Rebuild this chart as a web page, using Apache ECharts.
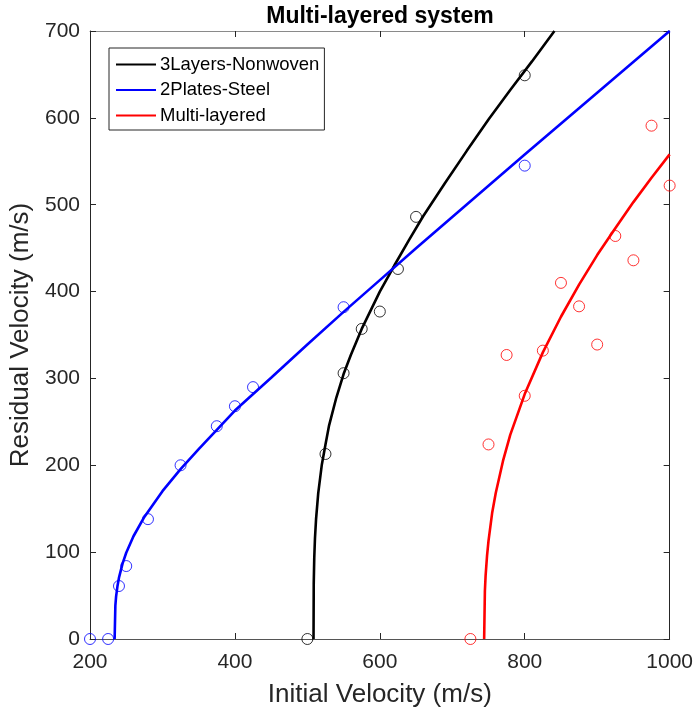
<!DOCTYPE html>
<html>
<head>
<meta charset="utf-8">
<script src="https://cdn.jsdelivr.net/npm/echarts@6/dist/echarts.min.js"></script>
<style>
  html, body { margin: 0; padding: 0; background: #fff; }
  #chart { width: 696px; height: 715px; }
</style>
</head>
<body>
<div id="chart"></div>
<script>
// Measured impact tests: initial velocity vs residual velocity (m/s)
const blueVi = [200, 225, 240, 250, 280, 325, 375, 400, 425, 550, 800];
const blueVr = [0, 0, 61, 84, 138, 200, 245, 268, 290, 382, 545];
const blackVi = [500, 525, 550, 575, 600, 625, 650, 800];
const blackVr = [0, 213, 306, 357, 377, 426, 486, 649];
const redVi = [725, 750, 775, 800, 825, 850, 875, 900, 925, 950, 975, 1000];
const redVr = [0, 224, 327, 280, 332, 410, 383, 339, 464, 436, 591, 522];

// Fitted ballistic-limit curves, sampled
const blueFitVi = [234, 235, 236, 238, 240, 245, 250, 260, 275, 300, 325, 350, 400, 450, 500, 550, 600, 650, 700, 800, 900, 1000];
const blueFitVr = [0, 38.5, 48.7, 61.4, 70.6, 87.0, 99.3, 118.3, 140.5, 170.2, 195.5, 218.6, 263, 300.7, 339, 376.6, 413.2, 449.8, 485.9, 557.7, 629, 700];
const blackFitVi = [508.5, 508.8, 509.5, 510.5, 512, 515, 520, 525, 530, 540, 550, 560, 575, 600, 620, 640, 660, 690, 720, 750, 780, 810, 841];
const blackFitVr = [0, 64, 93, 116, 138, 168, 201, 224, 246, 278, 305, 327, 357, 400, 430, 459, 487, 525, 562, 598, 632, 665, 700];
const redFitVi = [744, 745, 746, 748, 750, 755, 760, 770, 780, 800, 825, 850, 875, 900, 925, 950, 975, 1000];
const redFitVr = [0, 55, 73, 96, 113, 145, 168, 205, 235, 282, 330, 371, 408, 442, 473, 503, 531, 558];

const seriesNames = ['3Layers-Nonwoven', '2Plates-Steel', 'Multi-layered'];
const xTicks = { min: 200, max: 1000, step: 200 };
const yTicks = { min: 0, max: 700, step: 100 };

const FONT = '"Liberation Sans", Arial, Helvetica, sans-serif';
const INK = '#262626';

function pairs(xs, ys) { return xs.map((x, i) => [x, ys[i]]); }

function fitLine(name, xs, ys, color) {
  return {
    name: name, type: 'line', data: pairs(xs, ys),
    symbol: 'none', showSymbol: false, smooth: false, clip: true, z: 5,
    lineStyle: { color: color, width: 2.6 }, itemStyle: { color: color }
  };
}
function points(name, xs, ys, color) {
  return {
    name: name, type: 'scatter', data: pairs(xs, ys),
    symbol: 'circle', symbolSize: 11, clip: false, z: 3,
    itemStyle: { color: 'rgba(0,0,0,0)', borderColor: color, borderWidth: 1 },
    emphasis: { disabled: true }
  };
}

function xAxisDef(pos, showLabels, lineColor) {
  return {
    type: 'value', position: pos, min: xTicks.min, max: xTicks.max, interval: xTicks.step,
    axisLine: { show: true, onZero: false, lineStyle: { color: lineColor, width: 1 } },
    axisTick: { show: true, inside: true, length: 6, lineStyle: { color: INK } },
    axisLabel: { show: showLabels, color: INK, fontSize: 21, fontFamily: FONT, margin: 13,
                 formatter: v => String(v) },
    splitLine: { show: false },
    name: showLabels ? 'Initial Velocity (m/s)' : '',
    nameLocation: 'middle', nameGap: 43,
    nameTextStyle: { color: INK, fontSize: 26, fontFamily: FONT }
  };
}
function yAxisDef(pos, showLabels, lineColor) {
  return {
    type: 'value', position: pos, min: yTicks.min, max: yTicks.max, interval: yTicks.step,
    axisLine: { show: true, onZero: false, lineStyle: { color: lineColor, width: 1 } },
    axisTick: { show: true, inside: true, length: 6, lineStyle: { color: INK } },
    axisLabel: { show: showLabels, color: INK, fontSize: 21, fontFamily: FONT, margin: 10,
                 formatter: v => String(v) },
    splitLine: { show: false },
    name: showLabels ? 'Residual Velocity (m/s)' : '',
    nameLocation: 'middle', nameGap: 48,
    nameTextStyle: { color: INK, fontSize: 26, fontFamily: FONT }
  };
}

const chart = echarts.init(document.getElementById('chart'), null, { renderer: 'canvas' });
chart.setOption({
  animation: false,
  backgroundColor: '#ffffff',
  title: {
    text: 'Multi-layered system', left: 380, top: 5, textAlign: 'center', padding: 0,
    textStyle: { color: '#000', fontSize: 23, fontWeight: 'bold', fontFamily: FONT }
  },
  grid: { left: 90, right: 26, top: 31, bottom: 76, containLabel: false },
  xAxis: [xAxisDef('bottom', true, '#555'), xAxisDef('top', false, '#8a8a8a')],
  yAxis: [yAxisDef('left', true, INK), yAxisDef('right', false, INK)],
  legend: {
    data: seriesNames, orient: 'vertical', left: 109, top: 48,
    itemWidth: 40, itemHeight: 14, itemGap: 6.5,
    padding: [7, 5, 5, 6],
    borderColor: INK, borderWidth: 1, backgroundColor: '#fff',
    itemStyle: { opacity: 0 },
    textStyle: { color: '#000', fontSize: 18.5, fontFamily: FONT, padding: [0, 0, 0, -1] },
    selectedMode: false
  },
  series: [
    points('3Layers-Nonwoven tests', blackVi, blackVr, '#000000'),
    points('2Plates-Steel tests', blueVi, blueVr, '#0000ff'),
    points('Multi-layered tests', redVi, redVr, '#ff0000'),
    fitLine(seriesNames[0], blackFitVi, blackFitVr, '#000000'),
    fitLine(seriesNames[1], blueFitVi, blueFitVr, '#0000ff'),
    fitLine(seriesNames[2], redFitVi, redFitVr, '#ff0000')
  ]
});
</script>
</body>
</html>
